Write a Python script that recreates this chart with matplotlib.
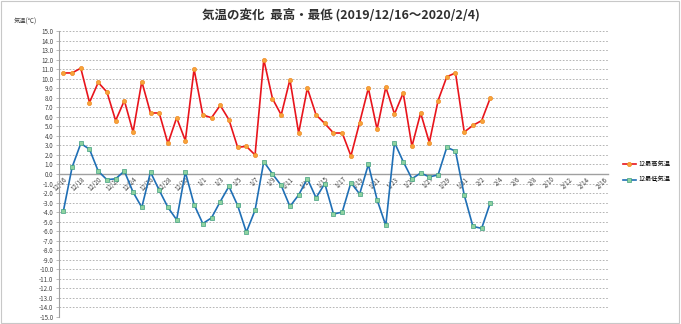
import matplotlib
matplotlib.use('Agg')
import matplotlib.pyplot as plt
from matplotlib.patches import Rectangle
import datetime as dt

plt.rcParams['font.family'] = ['Noto Sans CJK JP', 'DejaVu Sans']

# 日付 12/16 ～ 2/16 (軸の範囲)
start = dt.date(2019, 12, 16)
days = [start + dt.timedelta(days=i) for i in range(63)]
labels = ['%d/%d' % (d.month, d.day) for d in days]

# 最高気温 (12/16 ～ 2/3)
t_max = [10.6, 10.6, 11.1, 7.5, 9.6, 8.6, 5.6, 7.7, 4.4, 9.7,
         6.4, 6.4, 3.2, 5.9, 3.5, 11.0, 6.2, 5.9, 7.2, 5.7,
         2.8, 2.9, 2.0, 12.0, 7.9, 6.2, 9.9, 4.3, 9.0, 6.2,
         5.3, 4.3, 4.3, 1.9, 5.4, 9.0, 4.7, 9.1, 6.3, 8.5,
         2.9, 6.4, 3.3, 7.7, 10.2, 10.6, 4.4, 5.1, 5.6, 8.0]
# 最低気温
t_min = [-3.9, 0.7, 3.2, 2.6, 0.3, -0.6, -0.5, 0.3, -1.9, -3.5,
         0.2, -1.7, -3.5, -4.8, 0.2, -3.2, -5.2, -4.6, -2.9, -1.3,
         -3.3, -6.1, -3.8, 1.3, 0.0, -1.2, -3.4, -2.2, -0.5, -2.5,
         -1.0, -4.2, -4.0, -0.9, -2.1, 1.0, -2.7, -5.4, 3.3, 1.3,
         -0.5, 0.1, -0.3, -0.1, 2.8, 2.4, -2.2, -5.5, -5.7, -3.0]

fig = plt.figure(figsize=(6.81, 3.24), dpi=100)
ax = fig.add_axes([59/681, 1-317/324, (608-59)/681, (317-31)/324])

x = list(range(len(t_max)))
l1, = ax.plot(x, t_max, color='#e8141c', lw=1.2, marker='o', ms=3,
              mfc='#f7a43a', mec='#f08a24', mew=0.5, label='12最高気温', zorder=3)
l2, = ax.plot(x, t_min, color='#1f6fb5', lw=1.2, marker='s', ms=2.8,
              mfc='#8fd3a0', mec='#3f9f7f', mew=0.5, label='12最低気温', zorder=3)

ax.set_xlim(-0.5, len(days) - 0.5)
ax.set_ylim(-15, 15)
ax.set_yticks(range(-15, 16))
ax.set_yticklabels(['%.1f' % v for v in range(-15, 16)], fontsize=4.5, color='#404040')
for v in range(-15, 16):
    if v != 0:
        ax.axhline(v, color='#a8a8a8', lw=0.6, ls=(0, (2, 2)), zorder=1)

ax.spines['top'].set_visible(False)
ax.spines['right'].set_visible(False)
ax.spines['left'].set_color('#a0a0a0')
ax.spines['bottom'].set_position(('data', 0))
ax.spines['bottom'].set_color('#a0a0a0')
ax.spines['bottom'].set_linewidth(1.0)
ax.tick_params(axis='y', length=2, width=0.5, color='#a0a0a0', pad=2)
ax.tick_params(axis='x', length=0, pad=1)

ax.set_xticks(range(0, len(days), 2))
ax.set_xticklabels(labels[::2], rotation=45, ha='right', va='top',
                   rotation_mode='anchor', fontsize=4.5, color='#404040')

fig.text(341/681, 1-15/324, '気温の変化  最高・最低 (2019/12/16～2020/2/4)',
         ha='center', va='center', fontsize=9, fontweight='bold', color='#303030')
fig.text(14/681, 1-22/324, '気温(℃)', ha='left', va='center', fontsize=4.5, color='#404040')

fig.legend(handles=[l1, l2], loc='center left', bbox_to_anchor=(620/681, 1-172/324),
           frameon=False, fontsize=4.5, handlelength=2.2, handletextpad=0.3,
           labelspacing=1.2, borderaxespad=0)

fig.patches.append(Rectangle((0.002, 0.003), 0.995, 0.993, transform=fig.transFigure,
                             fill=False, ec='#c8c8c8', lw=0.8))

fig.savefig('out.png', dpi=100)
